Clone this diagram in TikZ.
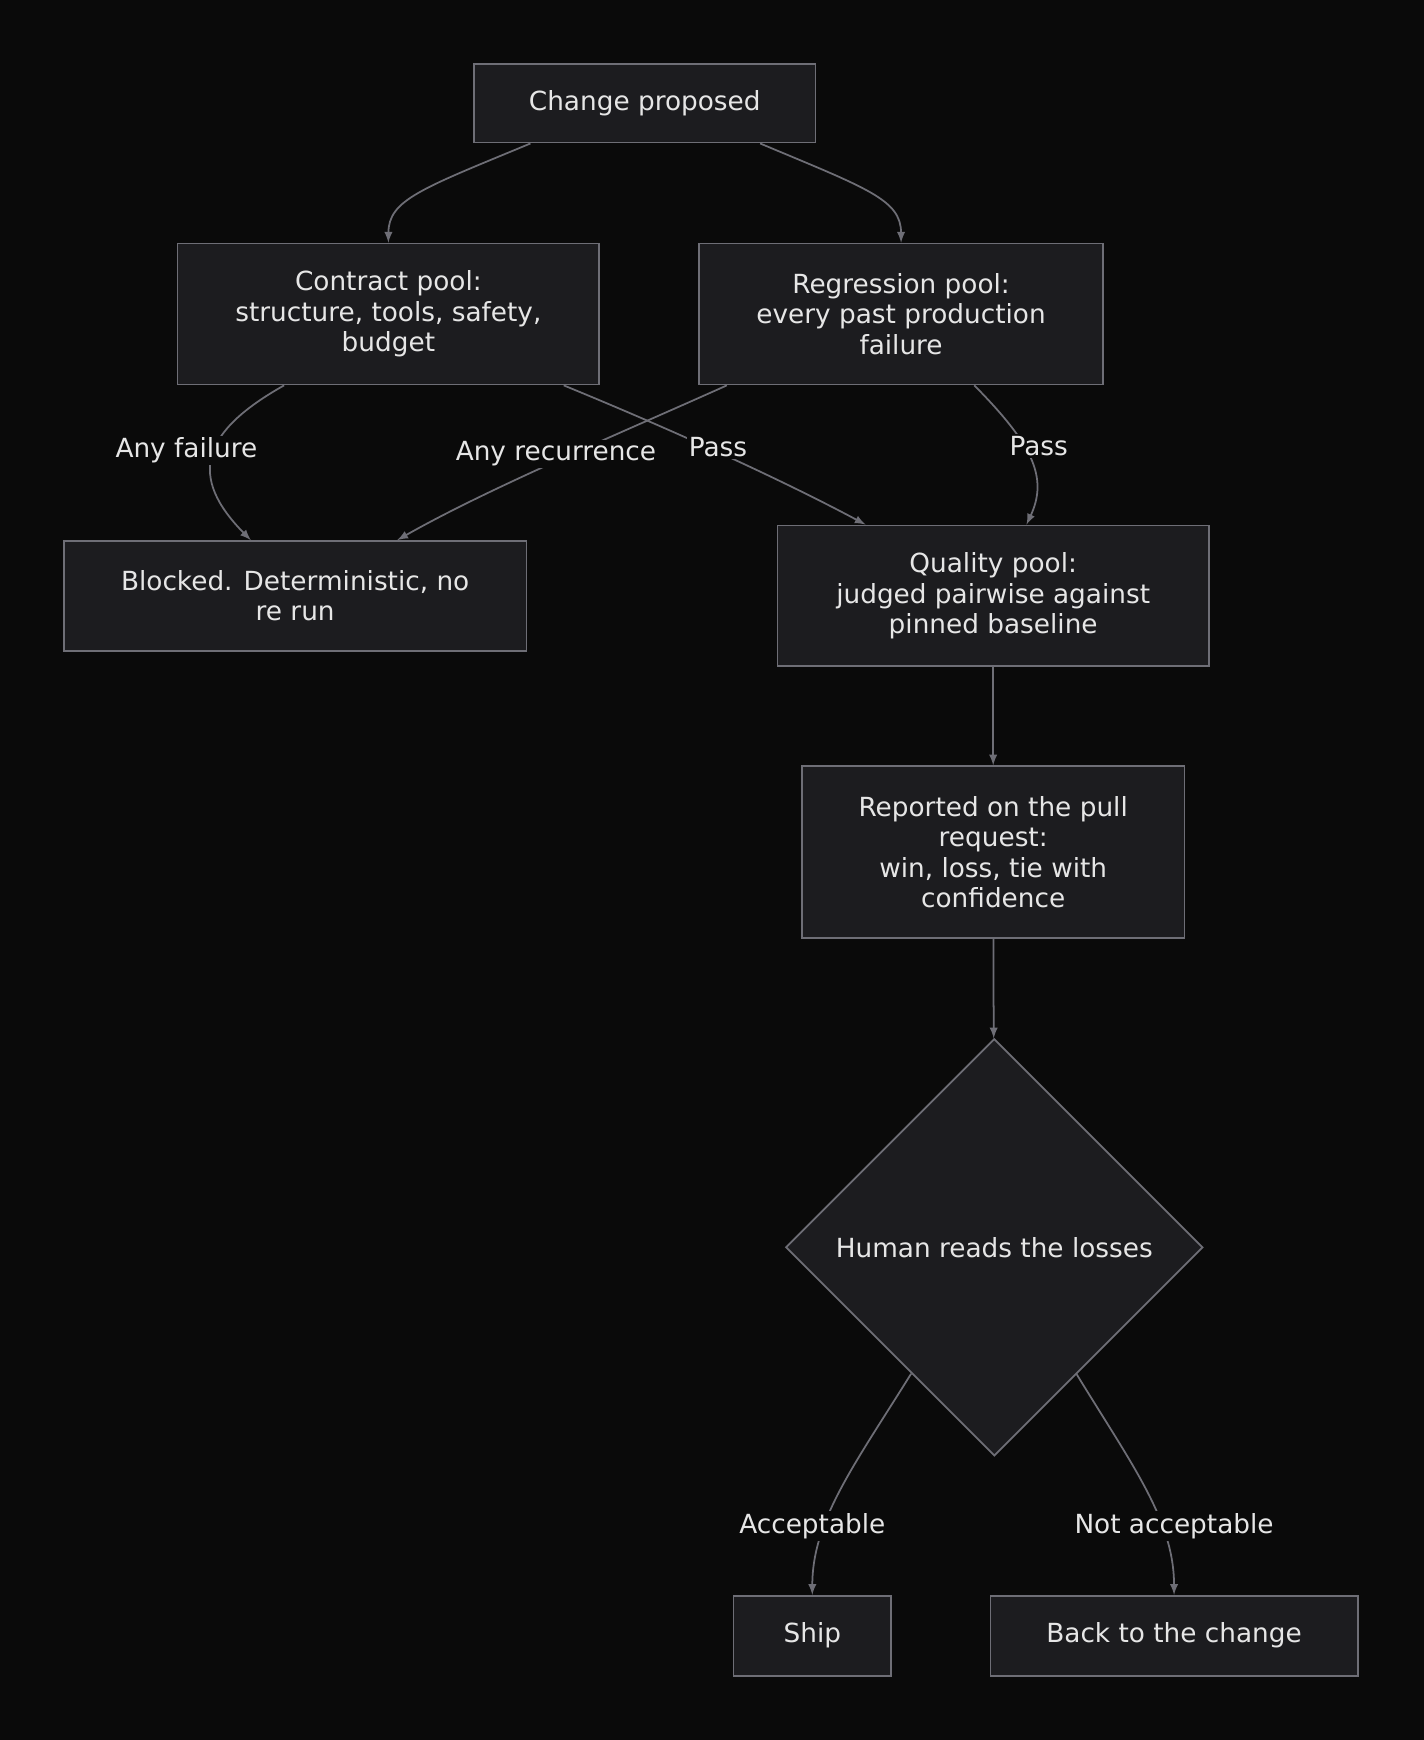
\documentclass[tikz,border=0pt]{standalone}
\usepackage{fontspec}
\setmainfont{DejaVu Sans}
\usetikzlibrary{calc,shapes.geometric}
\tikzset{>=latex}
\definecolor{bgcol}{HTML}{0A0A0A}
\definecolor{boxcol}{HTML}{1C1C1F}
\definecolor{linecol}{HTML}{6E6E76}
\definecolor{txtcol}{HTML}{E6E6E6}
\tikzstyle{box}=[draw=linecol,fill=boxcol,text=txtcol,align=center,line width=0.9pt,inner sep=0pt,font=\fontsize{13.5}{15.6}\selectfont]
\tikzstyle{lbl}=[fill=bgcol,text=txtcol,inner sep=1pt,font=\fontsize{13.5}{15.6}\selectfont]
\tikzstyle{edge}=[->,draw=linecol,line width=0.9pt]

\begin{document}
\begin{tikzpicture}[x=0.02cm,y=-0.02cm]
  \fill[bgcol] (0,0) rectangle (1283,1568);
  \useasboundingbox (0,0) rectangle (1283,1568);
  % nodes
  \node[box,minimum width=6.16cm,minimum height=1.42cm] (change) at (581,93) {Change proposed};
  \node[box,minimum width=7.6cm,minimum height=2.54cm] (contract) at (350,283) {Contract pool:\\structure, tools, safety,\\budget};
  \node[box,minimum width=7.28cm,minimum height=2.54cm] (regress) at (812,283) {Regression pool:\\every past production\\failure};
  \node[box,minimum width=8.34cm,minimum height=1.98cm] (blocked) at (266,537) {Blocked. Deterministic, no\\re run};
  \node[box,minimum width=7.78cm,minimum height=2.54cm] (quality) at (895,537) {Quality pool:\\judged pairwise against\\pinned baseline};
  \node[box,minimum width=6.9cm,minimum height=3.1cm] (report) at (895,768) {Reported on the pull\\request:\\win, loss, tie with\\confidence};
  \node[box,diamond,minimum width=7.52cm,minimum height=7.52cm] (human) at (896,1124) {Human reads the losses};
  \node[box,minimum width=2.84cm,minimum height=1.44cm] (ship) at (732,1474) {Ship};
  \node[box,minimum width=6.62cm,minimum height=1.44cm] (back) at (1058,1474) {Back to the change};
  % connectors
  \draw[edge] ($(change.south)+(-103,0)$) .. controls (380,170) and (350,180) .. (contract.north);
  \draw[edge] ($(change.south)+(104,0)$) .. controls (782,170) and (812,180) .. (regress.north);
  \draw[edge] ($(contract.south)+(-94,0)$) .. controls (180,390) and (170,430) .. ($(blocked.north)+(-40,0)$);
  \draw[edge] ($(regress.south)+(-157,0)$) .. controls (560,390) and (440,440) .. ($(blocked.north)+(92,0)$);
  \draw[edge] ($(contract.south)+(158,0)$) .. controls (600,385) and (700,430) .. ($(quality.north)+(-115,0)$);
  \draw[edge] ($(regress.south)+(66,0)$) .. controls (930,400) and (945,430) .. ($(quality.north)+(30,0)$);
  \draw[edge] (quality) -- (report);
  \draw[edge] (report) -- (human);
  \draw[edge] (821,1238) .. controls (770,1320) and (732,1370) .. (ship.north);
  \draw[edge] (970,1238) .. controls (1020,1320) and (1058,1370) .. (back.north);
  % labels
  \node[lbl] (lfail) at (168,406) {Any failure};
  \node[lbl] (lrec) at (501,409) {Any recurrence};
  \node[lbl] (lpass1) at (647,403) {Pass};
  \node[lbl] (lpass2) at (936,402) {Pass};
  \node[lbl] (lacc) at (732,1375) {Acceptable};
  \node[lbl] (lnot) at (1058,1375) {Not acceptable};
\end{tikzpicture}
\end{document}
